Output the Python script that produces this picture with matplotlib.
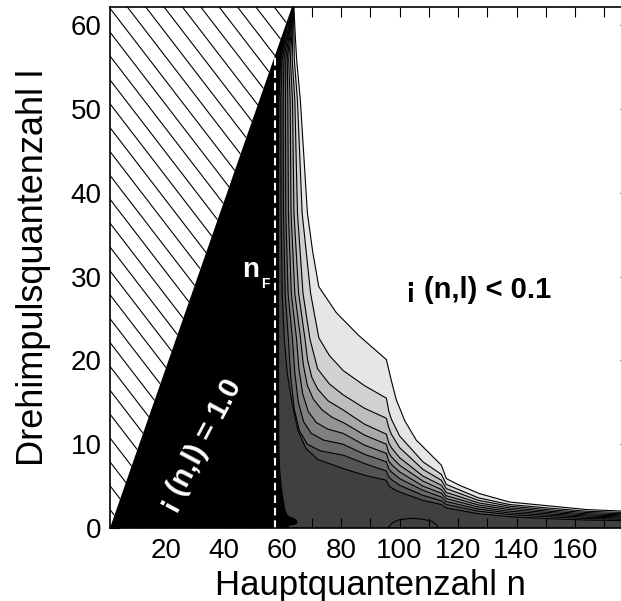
import matplotlib
matplotlib.use("Agg")
import matplotlib.pyplot as plt
import numpy as np
from matplotlib.patches import Polygon
from matplotlib.ticker import MultipleLocator

plt.rcParams['font.family'] = ['Liberation Sans', 'DejaVu Sans']

# Konturniveaus und Grauwerte der Flächen dazwischen (hell -> dunkel)
niveaus = [0.1, 0.2, 0.3, 0.4, 0.5, 0.6, 0.7, 0.8, 0.9]
grauwerte = [0.90, 0.82, 0.74, 0.66, 0.58, 0.50, 0.41, 0.33, 0.25]

# Konturlinien als (n, l)-Punkte, von oben (l > lmax) bis zum rechten Rand
n_01 = [63.7, 64.3, 64.8, 66.1, 68.5, 70.3, 72.4, 75.5, 78.4, 86.0, 95.5, 97.2, 98.9, 101.8, 105.7, 114.3, 116.0, 120.5, 127.4, 137.6, 152.3, 164.0, 181.0]
l_01 = [63.5, 59.1, 56.0, 51.0, 37.6, 33.0, 28.8, 27.2, 25.7, 23.0, 20.1, 17.6, 15.3, 12.8, 10.5, 7.5, 5.9, 5.1, 4.1, 3.1, 2.6, 2.2, 1.95]

n_02 = [63.65, 63.9, 64.0, 65.1, 66.7, 69.6, 72.4, 76.0, 80.7, 88.0, 95.5, 96.3, 97.2, 100.0, 108.0, 114.3, 116.0, 127.0, 137.6, 152.0, 164.0, 181.0]
l_02 = [63.5, 59.1, 56.0, 51.0, 37.6, 28.0, 22.7, 20.6, 18.8, 17.0, 15.5, 14.0, 13.0, 11.0, 7.9, 6.4, 5.2, 3.6, 2.8, 2.35, 2.0, 1.8]

n_03 = [63.6, 63.5, 63.3, 64.2, 65.1, 67.0, 69.4, 72.0, 76.0, 80.7, 88.0, 95.5, 96.3, 97.2, 100.0, 108.0, 114.3, 116.0, 127.0, 137.6, 152.0, 164.0, 181.0]
l_03 = [63.5, 59.1, 56.0, 51.0, 37.6, 28.0, 22.5, 19.0, 17.2, 15.9, 14.3, 13.1, 12.0, 11.2, 9.6, 7.0, 5.7, 4.7, 3.3, 2.6, 2.15, 1.85, 1.65]

n_04 = [63.55, 63.2, 62.7, 63.4, 63.9, 65.5, 67.7, 68.6, 70.0, 72.0, 75.5, 80.7, 88.0, 95.5, 96.3, 97.2, 100.0, 108.0, 114.3, 116.0, 127.0, 137.6, 152.0, 164.0, 181.0]
l_04 = [63.5, 59.1, 56.0, 51.0, 37.6, 28.0, 22.5, 20.0, 18.0, 16.6, 15.2, 14.1, 12.4, 11.2, 10.2, 9.6, 8.4, 6.2, 5.1, 4.25, 3.0, 2.4, 1.98, 1.7, 1.52]

n_05 = [63.5, 62.9, 62.1, 62.6, 62.9, 64.2, 66.2, 67.1, 68.5, 70.5, 73.5, 77.0, 80.7, 88.0, 95.5, 96.3, 97.2, 100.0, 108.0, 114.3, 116.0, 127.0, 137.6, 152.0, 164.0, 181.0]
l_05 = [63.5, 59.1, 56.0, 51.0, 37.6, 28.0, 22.5, 19.5, 17.0, 15.4, 14.1, 13.2, 12.6, 11.1, 10.0, 9.0, 8.5, 7.5, 5.6, 4.6, 3.85, 2.75, 2.2, 1.82, 1.57, 1.4]

n_06 = [63.45, 62.6, 61.6, 61.8, 62.0, 63.0, 64.8, 65.6, 66.9, 68.8, 71.5, 75.5, 80.7, 88.0, 95.5, 96.3, 97.2, 100.0, 108.0, 114.3, 116.0, 127.0, 137.6, 152.0, 164.0, 181.0]
l_06 = [63.5, 59.1, 56.0, 51.0, 37.6, 28.0, 22.5, 19.0, 16.0, 13.9, 12.6, 11.8, 11.3, 9.9, 8.9, 8.0, 7.6, 6.7, 5.0, 4.15, 3.5, 2.5, 2.0, 1.66, 1.43, 1.28]

n_07 = [63.4, 62.3, 61.1, 61.0, 61.1, 61.9, 63.4, 64.2, 65.4, 67.2, 69.8, 74.0, 80.7, 88.0, 95.5, 96.3, 97.2, 100.0, 108.0, 114.3, 116.0, 127.0, 137.6, 152.0, 164.0, 181.0]
l_07 = [63.5, 59.1, 56.0, 51.0, 37.6, 28.0, 22.5, 18.5, 15.0, 12.7, 11.3, 10.5, 10.0, 8.8, 7.9, 7.1, 6.7, 5.9, 4.5, 3.7, 3.15, 2.25, 1.8, 1.5, 1.29, 1.15]

n_08 = [63.35, 62.0, 60.5, 60.2, 60.3, 60.9, 62.0, 62.8, 64.0, 65.8, 68.5, 73.0, 80.7, 88.0, 95.5, 96.3, 97.2, 100.0, 108.0, 114.3, 116.0, 127.0, 137.6, 152.0, 164.0, 181.0]
l_08 = [63.5, 59.1, 56.0, 51.0, 37.6, 28.0, 22.5, 18.0, 14.2, 11.6, 10.0, 9.2, 8.7, 7.7, 6.8, 6.1, 5.8, 5.1, 3.9, 3.25, 2.8, 2.0, 1.6, 1.32, 1.13, 1.02]

n_09 = [63.3, 61.7, 59.9, 59.4, 59.5, 59.9, 60.6, 61.6, 63.3, 65.3, 68.0, 72.0, 80.7, 88.0, 95.5, 96.3, 97.2, 100.0, 108.0, 114.3, 116.0, 127.0, 137.6, 152.0, 164.0, 181.0]
l_09 = [63.5, 59.1, 56.0, 51.0, 37.6, 28.0, 22.5, 18.5, 14.8, 11.6, 9.5, 8.2, 7.1, 6.3, 5.7, 5.1, 4.8, 4.3, 3.3, 2.8, 2.4, 1.7, 1.35, 1.1, 0.95, 0.86]

# Rand des Gebiets mit eta(n,l) = 1.0
rand_n = [63.2, 61.4, 59.6, 58.9, 58.8, 58.8, 58.9, 59.2, 59.7, 60.4, 60.9, 61.5, 62.2, 63.6, 64.9, 65.1, 64.0, 62.3, 61.6]
rand_l = [63.5, 59.1, 56.0, 51.0, 37.6, 20.0, 10.0, 7.0, 5.0, 3.3, 2.3, 1.7, 1.4, 1.25, 0.95, 0.55, 0.35, 0.3, -1.0]

# kleine geschlossene Kontur am unteren Rand
insel_n = [96.0, 97.5, 100.0, 104.0, 108.0, 111.0, 112.6, 113.2]
insel_l = [0.0, 0.6, 1.0, 1.15, 1.05, 0.8, 0.4, 0.0]

n_fermi = 57.5

kurven = [(n_01, l_01), (n_02, l_02), (n_03, l_03), (n_04, l_04), (n_05, l_05),
          (n_06, l_06), (n_07, l_07), (n_08, l_08), (n_09, l_09)]

fig = plt.figure(figsize=(6.21, 6.01), dpi=100)
ax = fig.add_axes([110/621, 73/601, 520/621, 521/601])

# Flächen: jede Kontur schliesst das Gebiet mit eta >= Niveau ein
for (kn, kl), grau in zip(kurven, grauwerte):
    ax.fill(kn + [181.0, -5.0, -5.0], kl + [-1.0, -1.0, 63.5],
            color=str(grau), lw=0, zorder=1)

for kn, kl in kurven:
    ax.plot(kn, kl, color='black', lw=0.8, zorder=3)
ax.plot(insel_n, insel_l, color='black', lw=0.8, zorder=3)

# eta = 1.0
ax.fill(rand_n + [-5.0, -5.0], rand_l + [-1.0, 63.5], color='black', lw=0, zorder=4)

# verbotener Bereich l >= n, schraffiert
dreieck = Polygon([[1, 0], [64.5, 63.5], [-5, 63.5], [-5, 0]], closed=True,
                  facecolor='white', edgecolor='none', zorder=5)
ax.add_patch(dreieck)
xs = np.array([-5.0, 70.0])
for c in np.arange(-0.2, 100, 2.85):
    linie, = ax.plot(xs, c - 0.454 * xs, color='black', lw=0.8, zorder=6)
    linie.set_clip_path(dreieck)

# n_F
ax.plot([n_fermi, n_fermi], [0, n_fermi - 1], color='white', lw=1.5,
        ls=(0, (3.7, 2.3)), zorder=7)
ax.text(49.0, 30.0, 'n', color='white', fontsize=20, fontweight='bold',
        ha='center', va='baseline', zorder=8)
ax.text(54.1, 28.7, 'F', color='white', fontsize=10, fontweight='bold',
        ha='center', va='baseline', zorder=8)

ax.text(126.9, 27.4, '¡ (n,l) < 0.1', color='black', fontsize=21, fontweight='bold',
        ha='center', va='baseline', zorder=8)
ax.text(32.0, 9.9, '¡ (n,l) = 1.0', color='white', fontsize=21, fontweight='bold',
        ha='center', va='center', rotation=62, rotation_mode='anchor', zorder=8)

ax.set_xlim(1, 178.8)
ax.set_ylim(0, 62.2)

ax.xaxis.set_major_locator(MultipleLocator(20))
ax.xaxis.set_minor_locator(MultipleLocator(10))
ax.yaxis.set_major_locator(MultipleLocator(10))
ax.yaxis.set_minor_locator(MultipleLocator(2))
ax.tick_params(which='both', direction='in', top=True, right=True, width=0.8)
ax.tick_params(axis='x', which='both', length=7.2, pad=7, labelsize=20)
ax.tick_params(axis='y', which='major', length=7.2, pad=6, labelsize=20)
ax.tick_params(axis='y', which='minor', length=3.6)
for s in ax.spines.values():
    s.set_linewidth(1.2)
    s.set_zorder(10)

ax.set_xlabel('Hauptquantenzahl n', fontsize=25, labelpad=4)
ax.set_ylabel('Drehimpulsquantenzahl l', fontsize=26, labelpad=14)

fig.savefig('out.png', dpi=100)
